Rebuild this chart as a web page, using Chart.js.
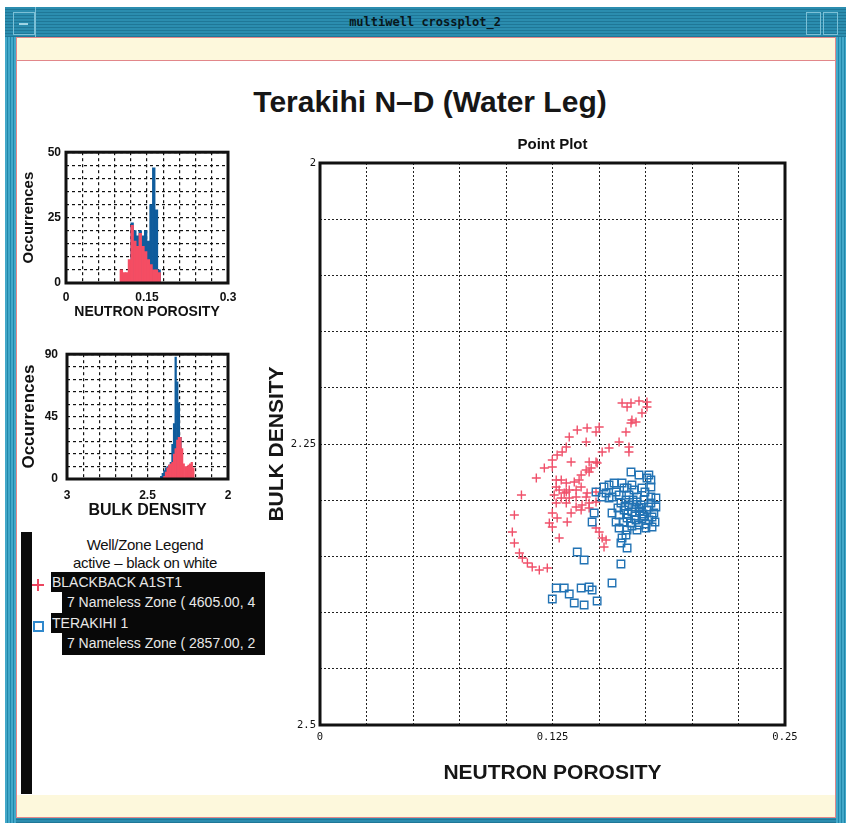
<!DOCTYPE html>
<html>
<head>
<meta charset="utf-8">
<title>multiwell crossplot_2</title>
<script src="https://cdn.jsdelivr.net/npm/chart.js@4.4.1/dist/chart.umd.min.js"></script>
<style>
html,body{margin:0;padding:0;background:#fff;}
body{width:846px;height:823px;position:relative;overflow:hidden;font-family:"Liberation Sans",Arial,sans-serif;color:#111;}
.a{position:absolute;box-sizing:border-box;}
#win{left:5px;top:7px;width:841px;height:816px;background:repeating-linear-gradient(180deg,#2b8daf 0px,#2b8daf 2px,#1f7797 2px,#1f7797 3px);}
#winL{left:5px;top:37px;width:11px;height:786px;background:repeating-linear-gradient(90deg,#43a8c9 0px,#43a8c9 2px,#2087ab 2px,#2087ab 3px);}
#winR{left:836px;top:37px;width:10px;height:786px;background:repeating-linear-gradient(90deg,#43a8c9 0px,#43a8c9 2px,#2087ab 2px,#2087ab 3px);}
#panel{left:16px;top:37px;width:820px;height:781px;background:#fdf8dc;border:1px solid #e2878a;}
#white{left:17px;top:60px;width:818px;height:735px;background:#fff;border-top:1px solid #e2878a;}
#ttl{left:300px;top:15px;width:250px;text-align:center;font:bold 12px "DejaVu Sans Mono",monospace;color:#08171c;line-height:14px;}
.btn{border:1px solid #7cc0d6;}
.bar{background:#9fd3e3;height:2px;}
#title{left:130px;top:87px;width:600px;text-align:center;font:bold 30px "Liberation Sans",Arial,sans-serif;line-height:30px;color:#161616;}
#blackbar{left:21px;top:532px;width:11px;height:262px;background:#0b0b0b;}
.lg{font:15px "Liberation Sans",Arial,sans-serif;color:#111;text-align:center;left:40px;width:210px;letter-spacing:-0.3px;}
.band{background:#080808;color:#e8e8e8;font:14px "Liberation Sans",Arial,sans-serif;line-height:20px;white-space:nowrap;overflow:hidden;padding-left:1px;}
canvas{position:absolute;}
</style>
</head>
<body>
<div class="a" id="win"></div>
<div class="a" id="winL"></div>
<div class="a" id="winR"></div>
<div class="a btn" style="left:13px;top:12px;width:22px;height:23px;"></div>
<div class="a bar" style="left:19px;top:23px;width:9px;"></div>
<div class="a" style="left:35px;top:7px;width:1px;height:30px;background:#7cc0d6;"></div>
<div class="a btn" style="left:806px;top:12px;width:15px;height:23px;"></div>
<div class="a btn" style="left:823px;top:12px;width:15px;height:23px;"></div>
<div class="a" id="ttl">multiwell crossplot_2</div>
<div class="a" id="panel"></div>
<div class="a" id="white"></div>
<div class="a" id="title">Terakihi N–D (Water Leg)</div>

<div class="a" id="blackbar"></div>
<div class="a lg" style="top:536px;">Well/Zone Legend</div>
<div class="a lg" style="top:554px;">active – black on white</div>
<div class="a" style="left:32px;top:584px;width:12px;height:1.6px;background:#ec4660;"></div>
<div class="a" style="left:37.2px;top:579px;width:1.6px;height:12px;background:#ec4660;"></div>
<div class="a band" style="left:51px;top:572px;width:214px;height:20px;">BLACKBACK A1ST1</div>
<div class="a band" style="left:62px;top:592px;width:203px;height:21px;">&nbsp;7 Nameless Zone ( 4605.00, 4</div>
<div class="a" style="left:33px;top:621px;width:11px;height:11px;border:2px solid #2f88cc;background:#fff;"></div>
<div class="a band" style="left:51px;top:613px;width:214px;height:20px;">TERAKIHI 1</div>
<div class="a band" style="left:62px;top:633px;width:203px;height:22px;">&nbsp;7 Nameless Zone ( 2857.00, 2</div>

<canvas id="c1" width="230" height="182" style="left:18px;top:140px;"></canvas>
<canvas id="c2" width="230" height="190" style="left:18px;top:338px;"></canvas>
<canvas id="c3" width="560" height="665" style="left:262px;top:130px;"></canvas>

<script>
// ---------- data ----------
const porosityBinCenters = [0.1025,0.1075,0.1125,0.1175,0.1225,0.1275,0.1325,0.1375,0.1425,0.1475,0.1525,0.1575,0.1625,0.1675,0.1725];
const porosityBlueCounts = [0,0,0,0,23,20,18,20,18,20,16,30,44,28,5];
const porosityRedCounts  = [5,4,4,9,22,16,14,19,14,12,9,7,5,5,4];

const densityBinCenters = [2.415,2.405,2.395,2.385,2.375,2.365,2.355,2.345,2.335,2.325,2.315,2.305,2.295,2.285,2.275,2.265,2.255,2.245,2.235,2.225,2.215];
const densityBlueCounts = [2,4,6,8,9,10,12,25,40,88,70,55,30,10,0,0,0,0,0,0,0];
const densityRedCounts  = [0,0,2,5,8,10,11,12,18,22,28,30,30,22,11,9,9,10,11,12,8];

const redPorosity = [0.1624,0.1672,0.1715,0.1758,0.1758,0.1651,0.1731,0.1677,0.1699,0.1672,
  0.1645,0.1608,0.1661,0.1661,0.1554,0.1517,0.1490,0.1447,0.1458,0.1431,
  0.1404,0.1393,0.1367,0.1340,0.1377,0.1404,0.1501,0.1484,0.1436,0.1383,
  0.1340,0.1431,0.1324,0.1302,0.1275,0.1249,0.1350,0.1206,0.1163,0.1083,
  0.1270,0.1297,0.1270,0.1286,0.1313,0.1259,0.1297,0.1436,0.1249,0.1484,
  0.1324,0.1447,0.1324,0.1340,0.1377,0.1431,0.1484,0.1270,0.1324,0.1377,
  0.1409,0.1447,0.1484,0.1350,0.1404,0.1447,0.1249,0.1275,0.1233,0.1329,
  0.1249,0.1286,0.1484,0.1501,0.1517,0.1538,0.1527,0.1045,0.1034,0.1045,
  0.1072,0.1088,0.1115,0.1141,0.1179,0.1222];
const redDensity = [2.2135,2.2135,2.2117,2.2126,2.2171,2.2171,2.2224,2.2286,2.2304,2.2313,
  2.2393,2.2482,2.2527,2.2571,2.2536,2.2571,2.2669,2.2660,2.2714,2.2731,
  2.2776,2.2820,2.2838,2.2909,2.2909,2.2883,2.2349,2.2393,2.2358,2.2375,
  2.2438,2.2482,2.2527,2.2571,2.2598,2.2642,2.2660,2.2714,2.2802,2.2954,
  2.2820,2.2820,2.2883,2.2909,2.2936,2.2954,2.2980,2.2936,2.2705,2.2660,
  2.2847,2.2749,2.2927,2.2980,2.2972,2.2972,2.2927,2.3025,2.3025,2.3060,
  2.3043,2.3025,2.3016,2.3114,2.3087,2.3069,2.3114,2.3158,2.3203,2.3194,
  2.3238,2.3336,2.3247,2.3283,2.3336,2.3354,2.3416,2.3132,2.3283,2.3381,
  2.3470,2.3514,2.3559,2.3594,2.3621,2.3603];

const bluePorosity = [0.1672,0.1715,0.1768,0.1779,0.1554,0.1581,0.1635,0.1677,0.1484,0.1538,
  0.1570,0.1608,0.1758,0.1624,0.1527,0.1592,0.1651,0.1688,0.1731,0.1779,
  0.1517,0.1554,0.1645,0.1618,0.1661,0.1704,0.1742,0.1779,0.1806,0.1635,
  0.1677,0.1715,0.1758,0.1795,0.1608,0.1651,0.1693,0.1731,0.1768,0.1801,
  0.1672,0.1715,0.1752,0.1629,0.1693,0.1736,0.1779,0.1704,0.1661,0.1747,
  0.1474,0.1463,0.1570,0.1592,0.1608,0.1651,0.1704,0.1752,0.1785,0.1624,
  0.1618,0.1645,0.1651,0.1383,0.1420,0.1618,0.1570,0.1270,0.1313,0.1340,
  0.1404,0.1447,0.1463,0.1249,0.1367,0.1420,0.1490,
  0.1640,0.1683,0.1726,0.1768,0.1656,0.1699,0.1742,0.1785,0.1720,0.1677,0.1602,0.1806];
const blueDensity = [2.2749,2.2776,2.2776,2.2820,2.2865,2.2847,2.2891,2.2865,2.2927,2.2936,
  2.2972,2.2954,2.2802,2.2847,2.2883,2.2927,2.2891,2.2909,2.2891,2.2883,
  2.2972,2.2980,2.2998,2.3025,2.3043,2.3016,2.2998,2.3025,2.3060,2.3087,
  2.3105,2.3069,2.3087,2.3114,2.3132,2.3158,2.3141,2.3167,2.3176,2.3194,
  2.3203,2.3221,2.3212,2.3194,2.3060,2.3123,2.2972,2.2972,2.2954,2.2927,
  2.3114,2.3194,2.3114,2.3194,2.3247,2.3265,2.3265,2.3247,2.3238,2.3336,
  2.3381,2.3310,2.3425,2.3461,2.3532,2.3568,2.3737,2.3781,2.3781,2.3835,
  2.3781,2.3772,2.3799,2.3879,2.3915,2.3932,2.3897,
  2.3052,2.2998,2.3043,2.3060,2.3123,2.3176,2.3141,2.3150,2.3096,2.3229,2.3069,2.2980];

// ---------- ticks ----------
const mainXGrid = [0,0.025,0.05,0.075,0.1,0.125,0.15,0.175,0.2,0.225,0.25];
const mainXTickValues = [0,0.125,0.25];
const mainXTickText = ['0','0.125','0.25'];
const mainYGrid = [2,2.05,2.1,2.15,2.2,2.25,2.3,2.35,2.4,2.45,2.5];
const mainYTickValues = [2,2.25,2.5];
const mainYTickText = ['2','2.25','2.5'];

const porHistXGrid = [0,0.03,0.06,0.09,0.12,0.15,0.18,0.21,0.24,0.27,0.3];
const porHistXTickValues = [0,0.15,0.3];
const porHistXTickText = ['0','0.15','0.3'];
const porHistYGrid = [0,5,10,15,20,25,30,35,40,45,50];
const porHistYTickValues = [0,25,50];
const porHistYTickText = ['0','25','50'];

const denHistXGrid = [2,2.1,2.2,2.3,2.4,2.5,2.6,2.7,2.8,2.9,3];
const denHistXTickValues = [3,2.5,2];
const denHistXTickText = ['3','2.5','2'];
const denHistYGrid = [0,9,18,27,36,45,54,63,72,81,90];
const denHistYTickValues = [0,45,90];
const denHistYTickText = ['0','45','90'];

// ---------- helpers ----------
const FONT = '"Liberation Sans", Arial, sans-serif';
const MONO = '"DejaVu Sans Mono", "Liberation Mono", monospace';
Chart.defaults.color = '#111';
Chart.defaults.font.family = FONT;

const BLUE_PT = '#2273b4';
const RED_PT = '#f0506a';
const BLUE_BAR = '#0f5c9c';
const RED_BAR = '#f44d63';

function setTicks(grid) { return s => { s.ticks = grid.map(v => ({value: v})); }; }
function labeler(vals, texts) {
  return v => { const i = vals.findIndex(t => Math.abs(t - v) < 1e-9); return i >= 0 ? texts[i] : ''; };
}
const framePlugin = {
  id: 'frame',
  afterDraw(chart, args, opts) {
    const {ctx, chartArea: a} = chart;
    ctx.save();
    ctx.lineWidth = opts.width || 3;
    ctx.strokeStyle = '#111';
    ctx.strokeRect(a.left, a.top, a.right - a.left, a.bottom - a.top);
    ctx.restore();
  }
};
function pts(xs, ys) { return xs.map((x, i) => ({x: x, y: ys[i]})); }

function histChart(id, cfg) {
  return new Chart(document.getElementById(id), {
    type: 'bar',
    data: {
      datasets: [
        {label: 'BLACKBACK A1ST1', data: pts(cfg.centers, cfg.red), backgroundColor: RED_BAR, borderWidth: 0, grouped: false, barPercentage: 1, categoryPercentage: 1},
        {label: 'TERAKIHI 1', data: pts(cfg.centers, cfg.blue), backgroundColor: BLUE_BAR, borderWidth: 0, grouped: false, barPercentage: 1, categoryPercentage: 1}
      ]
    },
    options: {
      responsive: false, animation: false,
      layout: {padding: {top: 12, right: 20, left: 0, bottom: 0}},
      plugins: {legend: {display: false}, tooltip: {enabled: false}, frame: {width: 3}},
      scales: {
        x: {
          type: 'linear', min: cfg.xmin, max: cfg.xmax, reverse: cfg.xrev, offset: false,
          afterBuildTicks: setTicks(cfg.xGrid),
          afterFit: s => { s.height = cfg.xAxisH; },
          grid: {color: '#111', lineWidth: 1.2, drawTicks: false, offset: false},
          border: {display: false, dash: [3, 3]},
          ticks: {padding: cfg.xPad, autoSkip: false, maxRotation: 0, font: {family: FONT, size: 12, weight: 'bold'}, color: '#111', callback: labeler(cfg.xTV, cfg.xTT)},
          title: {display: true, text: cfg.xTitle, font: {family: FONT, size: cfg.xTitleSize, weight: 'bold'}, color: '#111', padding: {top: 0, bottom: cfg.xTitlePad}}
        },
        y: {
          type: 'linear', min: cfg.ymin, max: cfg.ymax,
          afterBuildTicks: setTicks(cfg.yGrid),
          afterFit: s => { s.width = cfg.yAxisW; },
          grid: {color: '#111', lineWidth: 1.2, drawTicks: false},
          border: {display: false, dash: [3, 3]},
          ticks: {padding: cfg.yPad, autoSkip: false, font: {family: FONT, size: 12, weight: 'bold'}, color: '#111', callback: labeler(cfg.yTV, cfg.yTT)},
          title: {display: true, text: 'Occurrences', font: {family: FONT, size: cfg.yTitleSize, weight: 'bold'}, color: '#111', padding: {top: cfg.yTitlePad, bottom: 0}}
        }
      }
    },
    plugins: [framePlugin]
  });
}

histChart('c1', {
  centers: porosityBinCenters, blue: porosityBlueCounts, red: porosityRedCounts,
  xmin: 0, xmax: 0.3, xrev: false, xGrid: porHistXGrid, xTV: porHistXTickValues, xTT: porHistXTickText,
  ymin: 0, ymax: 50, yGrid: porHistYGrid, yTV: porHistYTickValues, yTT: porHistYTickText,
  xAxisH: 39, yAxisW: 48, xPad: 7, yPad: 5,
  xTitle: 'NEUTRON POROSITY', xTitleSize: 14, xTitlePad: 1, yTitleSize: 15, yTitlePad: 2
});

histChart('c2', {
  centers: densityBinCenters, blue: densityBlueCounts, red: densityRedCounts,
  xmin: 2, xmax: 3, xrev: true, xGrid: denHistXGrid, xTV: denHistXTickValues, xTT: denHistXTickText,
  ymin: 0, ymax: 90, yGrid: denHistYGrid, yTV: denHistYTickValues, yTT: denHistYTickText,
  xAxisH: 49, yAxisW: 49, xPad: 9, yPad: 9,
  xTitle: 'BULK DENSITY', xTitleSize: 16, xTitlePad: 8, yTitleSize: 17, yTitlePad: 1
});

new Chart(document.getElementById('c3'), {
  type: 'scatter',
  data: {
    datasets: [
      {label: 'TERAKIHI 1', data: pts(bluePorosity, blueDensity), pointStyle: 'rect', pointRadius: 5.3, pointHoverRadius: 5.3,
       borderColor: BLUE_PT, backgroundColor: 'rgba(0,0,0,0)', borderWidth: 1.4},
      {label: 'BLACKBACK A1ST1', data: pts(redPorosity, redDensity), pointStyle: 'cross', pointRadius: 4.5, pointHoverRadius: 4.5,
       borderColor: RED_PT, backgroundColor: RED_PT, borderWidth: 1.4}
    ]
  },
  options: {
    responsive: false, animation: false,
    layout: {padding: {top: 0, right: 37, left: 0, bottom: 0}},
    plugins: {
      legend: {display: false}, tooltip: {enabled: false}, frame: {width: 3},
      title: {display: true, text: 'Point Plot', fullSize: false, color: '#111', font: {family: FONT, size: 15, weight: 'bold'}, padding: {top: 6, bottom: 9}}
    },
    scales: {
      x: {
        type: 'linear', min: 0, max: 0.25,
        afterBuildTicks: setTicks(mainXGrid),
        afterFit: s => { s.height = 70; },
        grid: {color: '#222', lineWidth: 1, drawTicks: false},
        border: {display: false, dash: [2, 2]},
        ticks: {padding: 6, autoSkip: false, maxRotation: 0, font: {family: MONO, size: 10.5}, color: '#111', callback: labeler(mainXTickValues, mainXTickText)},
        title: {display: true, text: 'NEUTRON POROSITY', font: {family: FONT, size: 21, weight: 'bold'}, color: '#161616', padding: {top: 0, bottom: 9}}
      },
      y: {
        type: 'linear', min: 2, max: 2.5, reverse: true,
        afterBuildTicks: setTicks(mainYGrid),
        afterFit: s => { s.width = 58; },
        grid: {color: '#222', lineWidth: 1, drawTicks: false},
        border: {display: false, dash: [2, 2]},
        ticks: {padding: 4, autoSkip: false, font: {family: MONO, size: 10.5}, color: '#111', callback: labeler(mainYTickValues, mainYTickText)},
        title: {display: true, text: 'BULK DENSITY', font: {family: FONT, size: 21, weight: 'bold'}, color: '#161616', padding: {top: 3, bottom: 0}}
      }
    }
  },
  plugins: [framePlugin]
});
</script>
</body>
</html>
